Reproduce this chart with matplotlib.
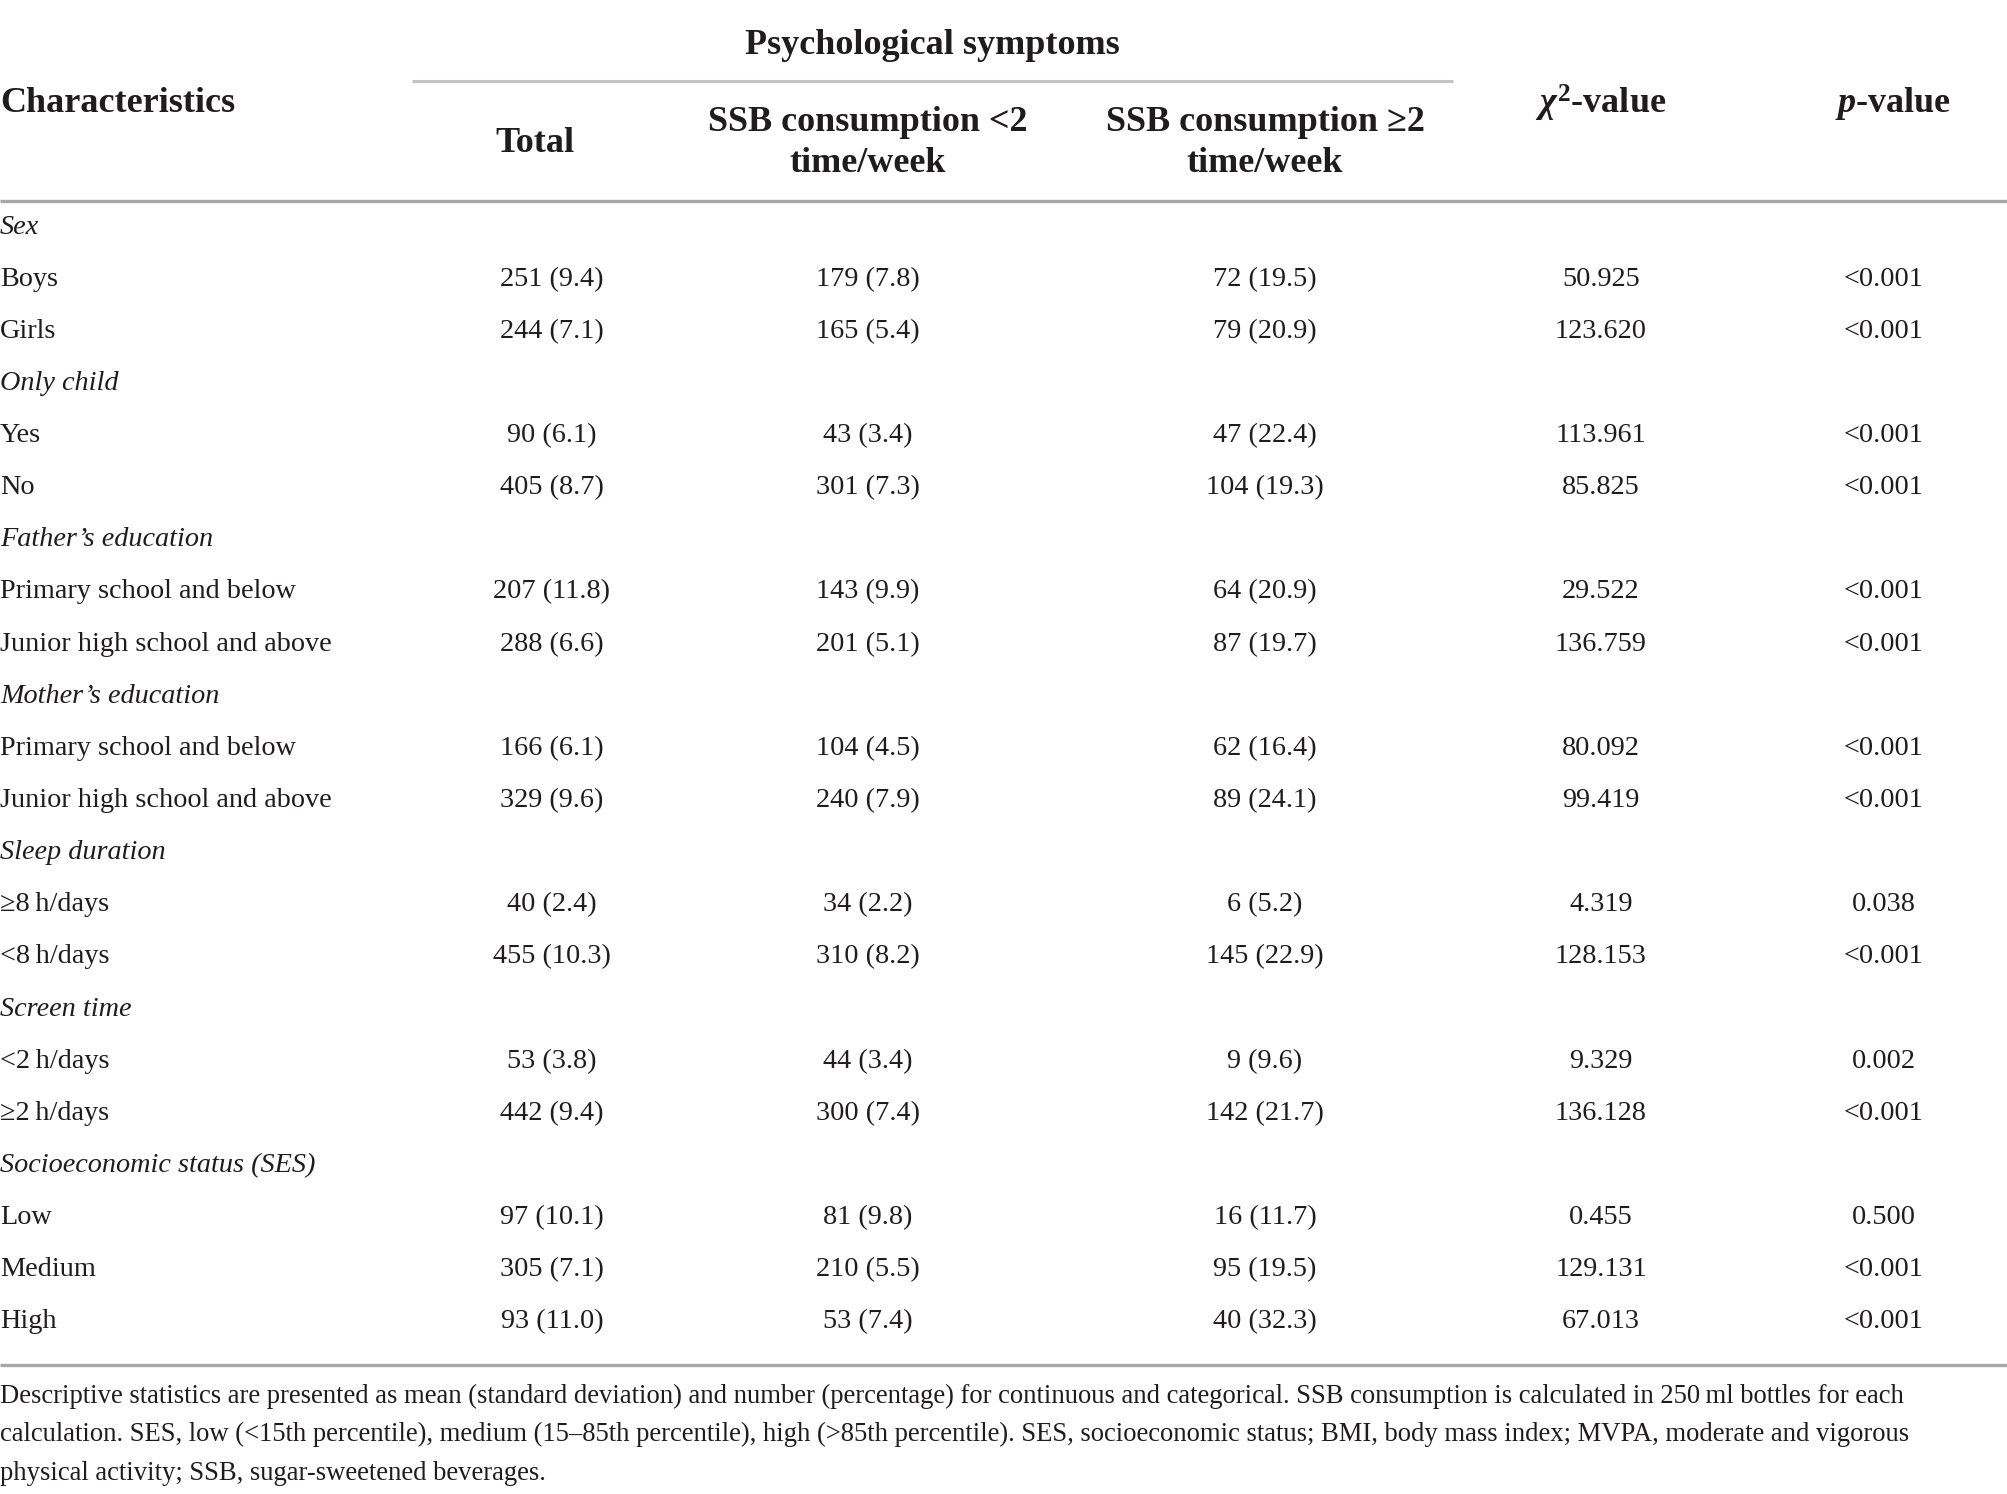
import matplotlib
matplotlib.use('Agg')
import matplotlib.pyplot as plt

plt.rcParams['font.family'] = ['Liberation Serif', 'DejaVu Serif']
plt.rcParams['mathtext.fontset'] = 'custom'
plt.rcParams['mathtext.rm'] = 'Liberation Serif:bold'
plt.rcParams['mathtext.it'] = 'Liberation Serif:italic:bold'
plt.rcParams['mathtext.bf'] = 'Liberation Serif:bold'

# table content
rows = ['Sex', 'Boys', 'Girls', 'Only child', 'Yes', 'No',
        'Father\u2019s education', 'Primary school and below', 'Junior high school and above',
        'Mother\u2019s education', 'Primary school and below', 'Junior high school and above',
        'Sleep duration', '\u22658\u2009h/days', '<8\u2009h/days',
        'Screen time', '<2\u2009h/days', '\u22652\u2009h/days',
        'Socioeconomic status (SES)', 'Low', 'Medium', 'High']
is_group = [1, 0, 0, 1, 0, 0, 1, 0, 0, 1, 0, 0, 1, 0, 0, 1, 0, 0, 1, 0, 0, 0]

total = ['', '251 (9.4)', '244 (7.1)', '', '90 (6.1)', '405 (8.7)', '', '207 (11.8)', '288 (6.6)',
         '', '166 (6.1)', '329 (9.6)', '', '40 (2.4)', '455 (10.3)', '', '53 (3.8)', '442 (9.4)',
         '', '97 (10.1)', '305 (7.1)', '93 (11.0)']
ssb_lt2 = ['', '179 (7.8)', '165 (5.4)', '', '43 (3.4)', '301 (7.3)', '', '143 (9.9)', '201 (5.1)',
           '', '104 (4.5)', '240 (7.9)', '', '34 (2.2)', '310 (8.2)', '', '44 (3.4)', '300 (7.4)',
           '', '81 (9.8)', '210 (5.5)', '53 (7.4)']
ssb_ge2 = ['', '72 (19.5)', '79 (20.9)', '', '47 (22.4)', '104 (19.3)', '', '64 (20.9)', '87 (19.7)',
           '', '62 (16.4)', '89 (24.1)', '', '6 (5.2)', '145 (22.9)', '', '9 (9.6)', '142 (21.7)',
           '', '16 (11.7)', '95 (19.5)', '40 (32.3)']
chi2 = ['', '50.925', '123.620', '', '113.961', '85.825', '', '29.522', '136.759',
        '', '80.092', '99.419', '', '4.319', '128.153', '', '9.329', '136.128',
        '', '0.455', '129.131', '67.013']
pval = ['', '<0.001', '<0.001', '', '<0.001', '<0.001', '', '<0.001', '<0.001',
        '', '<0.001', '<0.001', '', '0.038', '<0.001', '', '0.002', '<0.001',
        '', '0.500', '<0.001', '<0.001']

footnote = ['Descriptive statistics are presented as mean (standard deviation) and number (percentage) for continuous and categorical. SSB consumption is calculated in 250\u2009ml bottles for each',
            'calculation. SES, low (<15th percentile), medium (15\u201385th percentile), high (>85th percentile). SES, socioeconomic status; BMI, body mass index; MVPA, moderate and vigorous',
            'physical activity; SSB, sugar-sweetened beverages.']

W, H = 2008, 1494
fig = plt.figure(figsize=(W / 100, H / 100), dpi=100)
ax = fig.add_axes([0, 0, 1, 1])
ax.set_xlim(0, W)
ax.set_ylim(H, 0)
ax.axis('off')

ink = '#1f1c1d'
col_x = [552, 868, 1265, 1601, 1884]
fs = 20.3
hfs = 26

# header
ax.text(932, 45, 'Psychological symptoms', ha='center', va='center', fontsize=hfs, fontweight='bold', color=ink)
ax.plot([412, 1453], [81, 81], color='#c4c4c4', lw=2.2, solid_capstyle='butt')
ax.text(0, 104, 'Characteristics', ha='left', va='center', fontsize=hfs, fontweight='bold', color=ink)
ax.text(535, 143, 'Total', ha='center', va='center', fontsize=hfs, fontweight='bold', color=ink)
ax.text(868, 143, 'SSB consumption <2\ntime/week', ha='center', va='center', fontsize=hfs,
        fontweight='bold', color=ink, linespacing=1.3)
ax.text(1265, 143, 'SSB consumption \u22652\ntime/week', ha='center', va='center', fontsize=hfs,
        fontweight='bold', color=ink, linespacing=1.3)
ax.text(1601, 103, r'$\chi^{2}$-value', ha='center', va='center', fontsize=hfs, fontweight='bold', color=ink)
ax.text(1893, 103, r'$p$-value', ha='center', va='center', fontsize=hfs, fontweight='bold', color=ink)
ax.plot([0, W], [201, 201], color='#a8a8a8', lw=2.4, solid_capstyle='butt')

# body
y0, dy = 227, 52.14
for i, label in enumerate(rows):
    y = y0 + i * dy
    ax.text(0, y, label, ha='left', va='center', fontsize=fs, color=ink,
            style='italic' if is_group[i] else 'normal')
    for x, col in zip(col_x, [total, ssb_lt2, ssb_ge2, chi2, pval]):
        if col[i]:
            ax.text(x, y, col[i], ha='center', va='center', fontsize=fs, color=ink)

ax.plot([0, W], [1365, 1365], color='#a8a8a8', lw=2.4, solid_capstyle='butt')

for j, line in enumerate(footnote):
    ax.text(0, 1396 + j * 38.5, line, ha='left', va='center', fontsize=19.2, color=ink)

fig.savefig('out.png', dpi=100)
